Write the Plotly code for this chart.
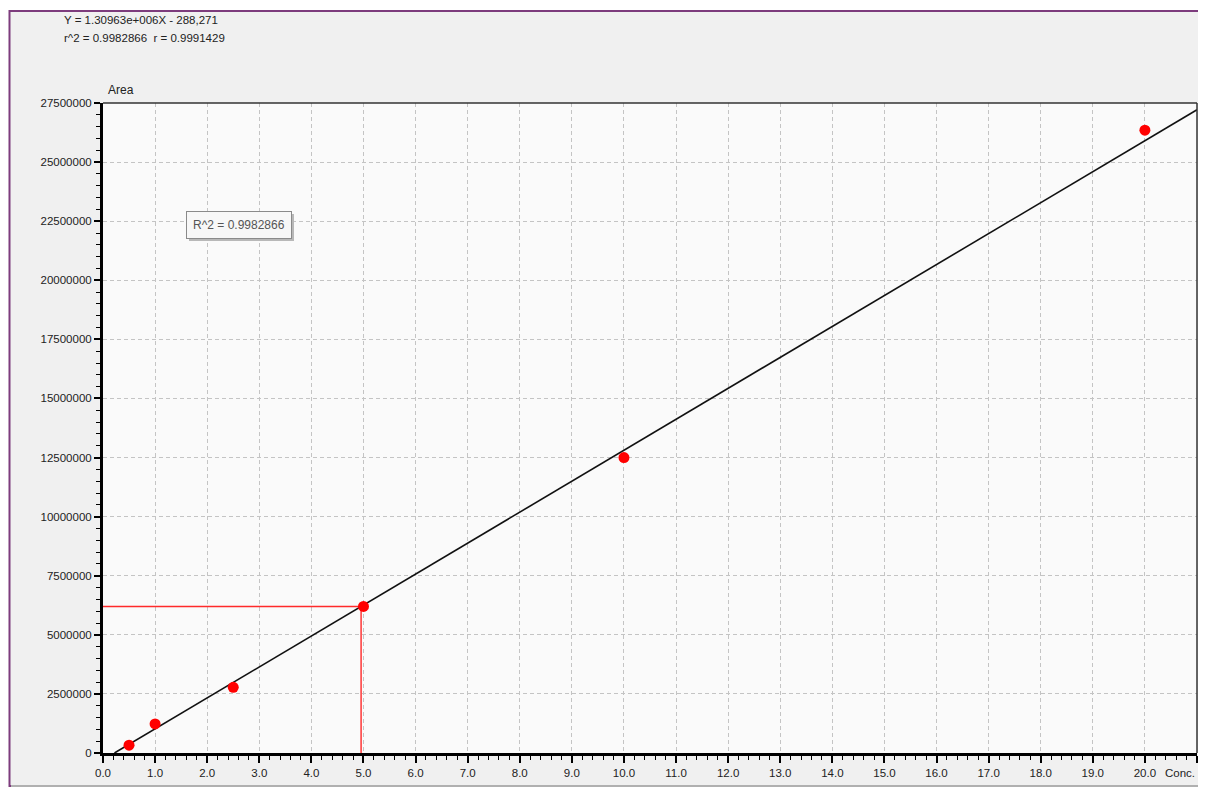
import plotly.graph_objects as go

# ---- data ----
conc = [0.5, 1.0, 2.5, 5.0, 10.0, 20.0]
area = [330000, 1230000, 2780000, 6200000, 12500000, 26350000]
slope = 1.30963e6
intercept = -288271
sample_area = 6200000
x_ticks = [i for i in range(22)]
x_ticktext = [f"{i:.1f}" for i in range(21)] + [""]
x_axis_name = "Conc."
y_ticks = [i * 2500000 for i in range(12)]
y_ticktext = [str(v) for v in y_ticks]

FONT = "Liberation Sans, Arial, sans-serif"
TS = 11.5

# page has an 8px body margin; compensate
OFF = 8
W, H = 1206 - OFF, 791 - OFF
L, R, T, B = 103 - OFF, 9, 103 - OFF, 38
PW, PH = W - L - R, H - T - B  # 1094 x 650


def px(p):
    return (p - 103) / PW


def py(p):
    return (753 - p) / PH


x_start = -intercept / slope
x_end = 21.0
fit_x = [x_start, x_end]
fit_y = [slope * x_start + intercept, slope * x_end + intercept]
sample_conc = (sample_area - intercept) / slope

fig = go.Figure()

fig.add_trace(go.Scatter(x=fit_x, y=fit_y, mode="lines",
                         line=dict(color="#111111", width=1.6),
                         hoverinfo="skip", showlegend=False))
fig.add_trace(go.Scatter(x=[0, sample_conc, sample_conc], y=[sample_area, sample_area, 0],
                         mode="lines", line=dict(color="#ff2a2a", width=1.4),
                         hoverinfo="skip", showlegend=False))
fig.add_trace(go.Scatter(x=conc, y=area, mode="markers",
                         marker=dict(color="#ff0000", size=11, symbol="circle"),
                         showlegend=False))

shapes = [
    dict(type="rect", xref="paper", yref="paper",
         x0=px(9.5), x1=px(1215), y0=py(786), y1=py(11),
         fillcolor="#f0f0f0", line=dict(color="#7d3c7d", width=2), layer="below"),
    dict(type="rect", xref="paper", yref="paper", x0=0, x1=1, y0=0, y1=1,
         fillcolor="#fafafa", line=dict(width=0), layer="below"),
    dict(type="line", xref="paper", yref="paper",
         x0=px(11), x1=px(1215), y0=py(786), y1=py(786),
         line=dict(color="#b0b0b0", width=2), layer="below"),
    dict(type="line", xref="paper", yref="paper", x0=0, x1=1, y0=1, y1=1,
         line=dict(color="#333333", width=1.5)),
    dict(type="line", xref="paper", yref="paper", x0=1, x1=1, y0=0, y1=1,
         line=dict(color="#333333", width=1.5)),
    dict(type="rect", xref="paper", yref="paper",
         x0=px(189), x1=px(294), y0=py(241), y1=py(214),
         fillcolor="#b8b8b8", line=dict(width=0), layer="above"),
]

annotations = [
    dict(xref="paper", yref="paper", x=px(62), y=py(20),
         xanchor="left", yanchor="middle", showarrow=False,
         text="Y = 1.30963e+006X - 288,271", font=dict(family=FONT, size=TS, color="#222222")),
    dict(xref="paper", yref="paper", x=px(62), y=py(38),
         xanchor="left", yanchor="middle", showarrow=False,
         text="r^2 = 0.9982866  r = 0.9991429", font=dict(family=FONT, size=TS, color="#222222")),
    dict(xref="paper", yref="paper", x=px(106), y=py(90),
         xanchor="left", yanchor="middle", showarrow=False,
         text="Area", font=dict(family=FONT, size=12, color="#222222")),
    dict(xref="paper", yref="paper", x=px(239), y=py(225),
         xanchor="center", yanchor="middle", showarrow=False,
         text="R^2 = 0.9982866", font=dict(family=FONT, size=12, color="#555555"),
         bgcolor="#f7f7f7", bordercolor="#8a8a8a", borderwidth=1, borderpad=6),
    dict(xref="x", yref="paper", x=21, y=0, yshift=-20,
         xanchor="right", yanchor="middle", showarrow=False,
         text=x_axis_name, font=dict(family=FONT, size=TS, color="#222222")),
]

fig.update_layout(
    width=W, height=H,
    margin=dict(l=L, r=R, t=T, b=B, pad=0),
    paper_bgcolor="white", plot_bgcolor="rgba(0,0,0,0)",
    font=dict(family=FONT, size=TS, color="#222222"),
    shapes=shapes, annotations=annotations,
    showlegend=False,
)
fig.update_xaxes(
    range=[0, 21], tickmode="array", tickvals=x_ticks, ticktext=x_ticktext,
    automargin=False,
    showline=True, linecolor="black", linewidth=3, mirror=False,
    ticks="outside", ticklen=7, tickwidth=1.5, tickcolor="black",
    showgrid=True, gridcolor="#c4c4c4", gridwidth=1, griddash="4px,3px",
    minor=dict(dtick=0.2, ticks="outside", ticklen=4, tickwidth=1, tickcolor="black", showgrid=False),
    zeroline=False, tickfont=dict(family=FONT, size=TS, color="#222222"),
)
fig.update_yaxes(
    range=[0, 27500000], tickmode="array", tickvals=y_ticks, ticktext=y_ticktext,
    automargin=False,
    showline=True, linecolor="black", linewidth=3, mirror=False,
    ticks="outside", ticklen=6, tickwidth=1.5, tickcolor="black",
    showgrid=True, gridcolor="#c4c4c4", gridwidth=1, griddash="4px,3px",
    minor=dict(dtick=500000, ticks="outside", ticklen=4, tickwidth=1, tickcolor="black", showgrid=False),
    zeroline=False, tickfont=dict(family=FONT, size=TS, color="#222222"),
)

fig.write_html("out.html")
